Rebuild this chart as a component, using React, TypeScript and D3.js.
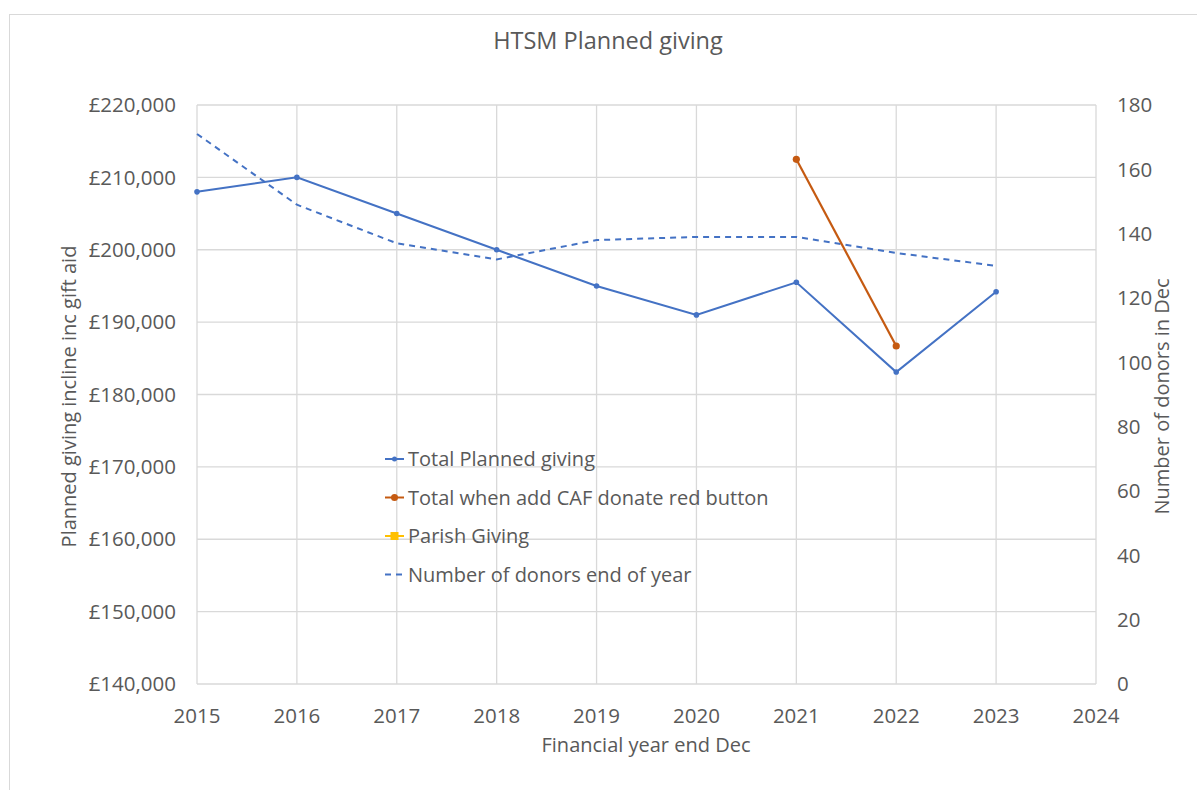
import * as d3 from "d3";

const years = [2015, 2016, 2017, 2018, 2019, 2020, 2021, 2022, 2023];
const totalPlanned = [208000, 210000, 205000, 200000, 195000, 191000, 195500, 183100, 194200];
const cafYears = [2021, 2022];
const cafTotal = [212500, 186700];
const parishGiving: number[] = [];
const donors = [171, 149, 137, 132, 138, 139, 139, 134, 130];

const xTicks = d3.range(2015, 2025);
const leftTicks = d3.range(140000, 220001, 10000);
const rightTicks = d3.range(0, 181, 20);

const legendItems = [
  { label: "Total Planned giving", color: "#4472C4", marker: "circle", dash: null, r: 2.5 },
  { label: "Total when add CAF donate red button", color: "#C55A11", marker: "circle", dash: null, r: 3.5 },
  { label: "Parish Giving", color: "#FFC000", marker: "square", dash: null, r: 4 },
  { label: "Number of donors end of year", color: "#4472C4", marker: null, dash: "6,5", r: 0 },
];

const W = 1197;
const H = 790;
const left = 197;
const right = 1096;
const top = 105;
const bottom = 684;
const textColor = "#595959";
const grid = "#d9d9d9";
const font = "'Open Sans', sans-serif";

export default function App() {
  const x = d3.scaleLinear().domain([2015, 2024]).range([left, right]);
  const yL = d3.scaleLinear().domain([140000, 220000]).range([bottom, top]);
  const yR = d3.scaleLinear().domain([0, 180]).range([bottom, top]);
  const fmt = (v: number) => "£" + d3.format(",")(v);

  const plannedLine = d3.line<number>().x((d, i) => x(years[i])).y((d) => yL(d))(totalPlanned) || "";
  const cafLine = d3.line<number>().x((d, i) => x(cafYears[i])).y((d) => yL(d))(cafTotal) || "";
  const donorLine = d3.line<number>().x((d, i) => x(years[i])).y((d) => yR(d))(donors) || "";

  return (
    <svg width={W} height={H} style={{ position: "absolute", left: 0, top: 0, background: "#fff" }} fontFamily={font}>
      <rect x={9.5} y={14.5} width={W} height={H} fill="#fff" stroke="#d9d9d9" />
      <text x={608} y={41} dy="0.35em" textAnchor="middle" fontSize={23.5} fill={textColor}>HTSM Planned giving</text>

      {leftTicks.map((t) => (
        <g key={"l" + t}>
          <line x1={left} x2={right} y1={yL(t)} y2={yL(t)} stroke={grid} strokeWidth={1.3} />
          <text x={176} y={yL(t)} dy="0.35em" textAnchor="end" fontSize={20.5} fill={textColor}>{fmt(t)}</text>
        </g>
      ))}
      {xTicks.map((t) => (
        <g key={"x" + t}>
          <line x1={x(t)} x2={x(t)} y1={top} y2={bottom} stroke={grid} strokeWidth={1.3} />
          <text x={x(t)} y={716} dy="0.35em" textAnchor="middle" fontSize={20.5} fill={textColor}>{t}</text>
        </g>
      ))}
      {rightTicks.map((t) => (
        <text key={"r" + t} x={1117} y={yR(t)} dy="0.35em" textAnchor="start" fontSize={20.5} fill={textColor}>{t}</text>
      ))}

      <text transform={`translate(69,${(top + bottom) / 2 + 2}) rotate(-90)`} textAnchor="middle" dy="0.35em" fontSize={20} fill={textColor}>
        Planned giving incline inc gift aid
      </text>
      <text transform={`translate(1162,${(top + bottom) / 2 + 2}) rotate(-90)`} textAnchor="middle" dy="0.35em" fontSize={20} fill={textColor}>
        Number of donors in Dec
      </text>
      <text x={646} y={745} dy="0.35em" textAnchor="middle" fontSize={20} fill={textColor}>Financial year end Dec</text>

      <path d={donorLine} fill="none" stroke="#4472C4" strokeWidth={2} strokeDasharray="6,5" />
      <path d={plannedLine} fill="none" stroke="#4472C4" strokeWidth={2} />
      {totalPlanned.map((v, i) => (
        <circle key={"p" + i} cx={x(years[i])} cy={yL(v)} r={2.8} fill="#4472C4" />
      ))}
      <path d={cafLine} fill="none" stroke="#C55A11" strokeWidth={2.2} />
      {cafTotal.map((v, i) => (
        <circle key={"c" + i} cx={x(cafYears[i])} cy={yL(v)} r={3.6} fill="#C55A11" />
      ))}
      {parishGiving.map((v, i) => (
        <rect key={"pg" + i} x={x(years[i]) - 4} y={yL(v) - 4} width={8} height={8} fill="#FFC000" />
      ))}

      {legendItems.map((it, i) => {
        const ly = 459 + i * 38.5;
        return (
          <g key={"lg" + i}>
            <line x1={385} x2={404} y1={ly} y2={ly} stroke={it.color} strokeWidth={2} strokeDasharray={it.dash || undefined} />
            {it.marker === "circle" && <circle cx={394.5} cy={ly} r={it.r} fill={it.color} />}
            {it.marker === "square" && <rect x={394.5 - it.r} y={ly - it.r} width={it.r * 2} height={it.r * 2} fill={it.color} />}
            <text x={408} y={ly} dy="0.35em" fontSize={20} fill={textColor}>{it.label}</text>
          </g>
        );
      })}
    </svg>
  );
}
